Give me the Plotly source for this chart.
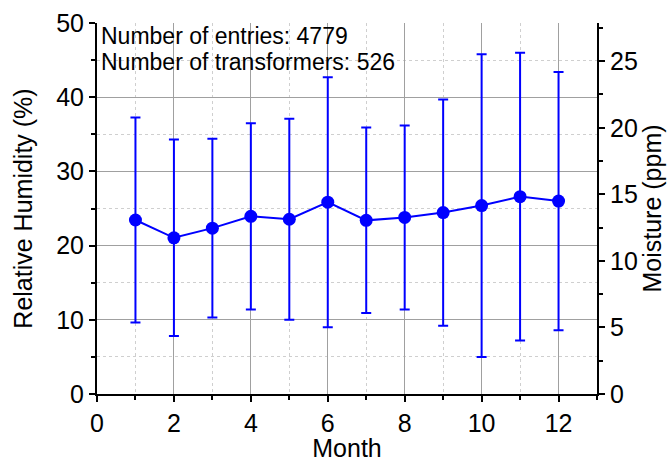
import plotly.graph_objects as go

months = [1, 2, 3, 4, 5, 6, 7, 8, 9, 10, 11, 12]
rh_mean = [23.45, 21.05, 22.35, 23.95, 23.55, 25.85, 23.4, 23.8, 24.45, 25.4, 26.6, 26.0]
rh_sd = [13.8, 13.25, 12.05, 12.55, 13.55, 16.85, 12.5, 12.4, 15.25, 20.4, 19.4, 17.4]
left_ticks = [0, 10, 20, 30, 40, 50]
right_ticks = [0, 5, 10, 15, 20, 25]
x_ticks = [0, 2, 4, 6, 8, 10, 12]
annot_lines = ["Number of entries: 4779", "Number of transformers: 526"]
RH_MAX = 50
PPM_MAX = 27.87

FONT = "Liberation Sans, Arial, sans-serif"
BLUE = "#0000ff"
GRID = "#a0a0a0"
MINOR = "#cfcfcf"

fig = go.Figure()
fig.add_trace(go.Scatter(
    x=months, y=rh_mean, mode="lines+markers",
    line=dict(color=BLUE, width=2),
    marker=dict(color=BLUE, size=13),
    error_y=dict(type="data", array=rh_sd, visible=True, color=BLUE, thickness=2, width=5),
    showlegend=False,
))
# invisible companion trace so the right (moisture) axis is drawn
fig.add_trace(go.Scatter(
    x=months, y=[v * PPM_MAX / RH_MAX for v in rh_mean], yaxis="y2",
    mode="markers", marker=dict(opacity=0), hoverinfo="skip", showlegend=False,
))

common = dict(ticks="outside", ticklen=6, tickwidth=1.5, tickcolor="black",
              showline=True, linecolor="black", linewidth=2, zeroline=False,
              automargin=False, tickfont=dict(size=25))

fig.update_layout(
    width=670, height=462,
    margin=dict(l=97, r=73, t=23, b=68),
    paper_bgcolor="white", plot_bgcolor="white",
    font=dict(family=FONT, color="black", size=25),
    xaxis=dict(
        range=[0, 13], tickvals=x_ticks, showgrid=True, gridcolor=GRID, gridwidth=1,
        title=dict(text="Month", font=dict(size=25), standoff=2),
        minor=dict(dtick=1, tick0=1, ticks="outside", ticklen=4, tickcolor="black",
                   showgrid=True, gridcolor=MINOR, griddash="dot", gridwidth=1),
        **common,
    ),
    yaxis=dict(
        range=[0, RH_MAX], tickvals=left_ticks, showgrid=True, gridcolor=GRID, gridwidth=1,
        title=dict(text="Relative Humidity (%)", font=dict(size=25), standoff=16),
        minor=dict(dtick=5, tick0=5, ticks="outside", ticklen=4, tickcolor="black",
                   showgrid=True, gridcolor=MINOR, griddash="dot", gridwidth=1),
        **common,
    ),
    yaxis2=dict(
        overlaying="y", side="right", range=[0, PPM_MAX], tickvals=right_ticks,
        showgrid=False,
        title=dict(text="Moisture (ppm)", font=dict(size=25), standoff=6),
        minor=dict(dtick=2.5, tick0=2.5, ticks="outside", ticklen=4, tickcolor="black"),
        **common,
    ),
)

for i, txt in enumerate(annot_lines):
    fig.add_annotation(
        text=txt, xref="paper", yref="paper", x=0.004, y=1.005 - i * 0.07,
        xanchor="left", yanchor="top", showarrow=False,
        font=dict(family=FONT, size=23, color="black"),
    )

fig.write_html(
    "out.html",
    config={"displayModeBar": False},
    post_script="document.body.style.margin='0';document.body.style.overflow='hidden';",
)
